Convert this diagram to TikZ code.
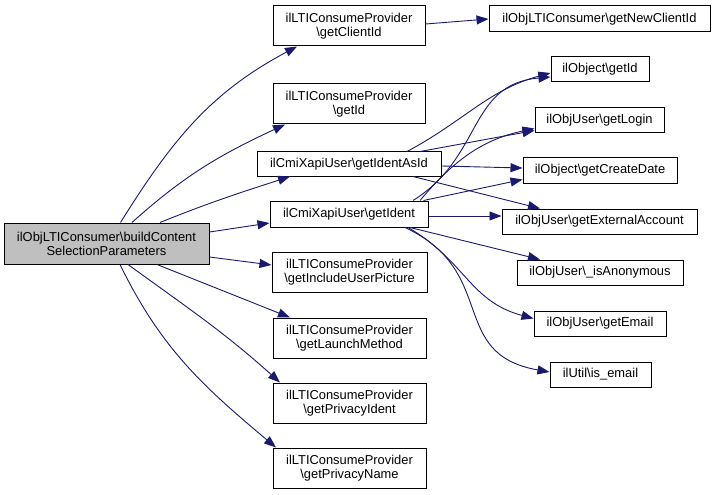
\documentclass[tikz,border=0pt]{standalone}
\usepackage{fontspec}
\setmainfont{Liberation Sans}
\usepackage{tikz}
\usetikzlibrary{arrows.meta}
\definecolor{Edge}{HTML}{191970}
\definecolor{Gray}{HTML}{BFBFBF}
\newcommand{\Bsl}{\textbackslash}

\begin{document}
\begin{tikzpicture}[x=1pt, y=1pt, font=\fontsize{12.9}{14}\selectfont]
		\tikzstyle{Func} 	= [rectangle, draw=black, line width=1pt, fill=white, align=center, inner sep=0pt, minimum height=25]
		\tikzstyle{Main}	= [fill=Gray]
		\tikzstyle{Call}	= [draw=Edge, line width=0.9pt, -{Triangle[length=12pt, width=9pt]}]

		\useasboundingbox (0,0) rectangle (716,-495);

		\node (main) at (106.5,-243.5) [Func][Main, minimum width=205, minimum height=41] {ilObjLTIConsumer\Bsl buildContent\\SelectionParameters};
		\node (pcid) at (349,-26) [Func, minimum width=152, minimum height=40] {ilLTIConsumeProvider\\\Bsl getClientId};
		\node (pid) at (349,-104) [Func, minimum width=152, minimum height=40] {ilLTIConsumeProvider\\\Bsl getId};
		\node (identasid) at (349,-164) [Func, minimum width=184, minimum height=24] {ilCmiXapiUser\Bsl getIdentAsId};
		\node (ident) at (349,-214) [Func, minimum width=158, minimum height=26] {ilCmiXapiUser\Bsl getIdent};
		\node (picture) at (349.5,-272) [Func, minimum width=155, minimum height=40] {ilLTIConsumeProvider\\\Bsl getIncludeUserPicture};
		\node (launch) at (349.5,-338) [Func, minimum width=153, minimum height=40] {ilLTIConsumeProvider\\\Bsl getLaunchMethod};
		\node (privident) at (349.5,-403) [Func, minimum width=153, minimum height=40] {ilLTIConsumeProvider\\\Bsl getPrivacyIdent};
		\node (privname) at (349.5,-468) [Func, minimum width=153, minimum height=40] {ilLTIConsumeProvider\\\Bsl getPrivacyName};

		\node (newclient) at (599.5,-19) [Func, minimum width=221, minimum height=26] {ilObjLTIConsumer\Bsl getNewClientId};
		\node (objgetid) at (600,-69.5) [Func, minimum width=98] {ilObject\Bsl getId};
		\node (login) at (599.5,-120.5) [Func, minimum width=129] {ilObjUser\Bsl getLogin};
		\node (createdate) at (600,-170.5) [Func, minimum width=154] {ilObject\Bsl getCreateDate};
		\node (extacc) at (599.5,-221.5) [Func, minimum width=195] {ilObjUser\Bsl getExternalAccount};
		\node (anon) at (600,-272.5) [Func, minimum width=166] {ilObjUser\Bsl\_isAnonymous};
		\node (email) at (600,-323.5) [Func, minimum width=132] {ilObjUser\Bsl getEmail};
		\node (isemail) at (600.5,-374.5) [Func, minimum width=101] {ilUtil\Bsl is\_email};

		\draw [Call] ([xshift=14]main.north) to[out=58, in=208] ([xshift=-52]pcid.south);
		\draw [Call] ([xshift=25.5]main.north) to[out=42, in=205] ([xshift=-64]pid.south);
		\draw [Call] ([xshift=53.5]main.north) to[out=22, in=198] ([xshift=-59]identasid.south);
		\draw [Call] ([yshift=11.5]main.east) to ([yshift=-9]ident.west);
		\draw [Call] ([yshift=-13.5]main.east) to ([yshift=7]picture.west);
		\draw [Call] ([xshift=50.5]main.south) to ([xshift=-59.5]launch.north);
		\draw [Call] ([xshift=21.5]main.south) to[out=-36, in=138] ([xshift=-69.5]privident.north);
		\draw [Call] ([xshift=13.5]main.south) to[out=-64, in=140] ([xshift=-73.5]privname.north);

		\draw [Call] ([yshift=2]pcid.east) to (newclient.west);

		\draw [Call] ([xshift=58]identasid.north) to[out=28, in=195] ([yshift=-3.5]objgetid.west);
		\draw [Call] ([xshift=71]identasid.north) to ([yshift=-10]login.west);
		\draw [Call] ([yshift=-2]identasid.east) to ([yshift=2.5]createdate.west);
		\draw [Call] ([xshift=64]identasid.south) to ([xshift=-59.5]extacc.north);

		\draw [Call] ([xshift=64]ident.north) to[out=32, in=185, looseness=1.15] ([yshift=-7.5]objgetid.west);
		\draw [Call] ([xshift=71]ident.north) to[out=50, in=192] ([yshift=-8]login.west);
		\draw [Call] ([xshift=-5]ident.north east) to ([yshift=-9]createdate.west);
		\draw [Call] ([yshift=-2]ident.east) to ([yshift=5.5]extacc.west);
		\draw [Call] ([xshift=61]ident.south) to ([xshift=-60]anon.north);
		\draw [Call] ([xshift=59]ident.south) to[out=-30, in=165, looseness=1.1] ([yshift=5]email.west);
		\draw [Call] ([xshift=56]ident.south) to[out=-25, in=170, looseness=1.3] ([yshift=2.5]isemail.west);
	\end{tikzpicture}
\end{document}
